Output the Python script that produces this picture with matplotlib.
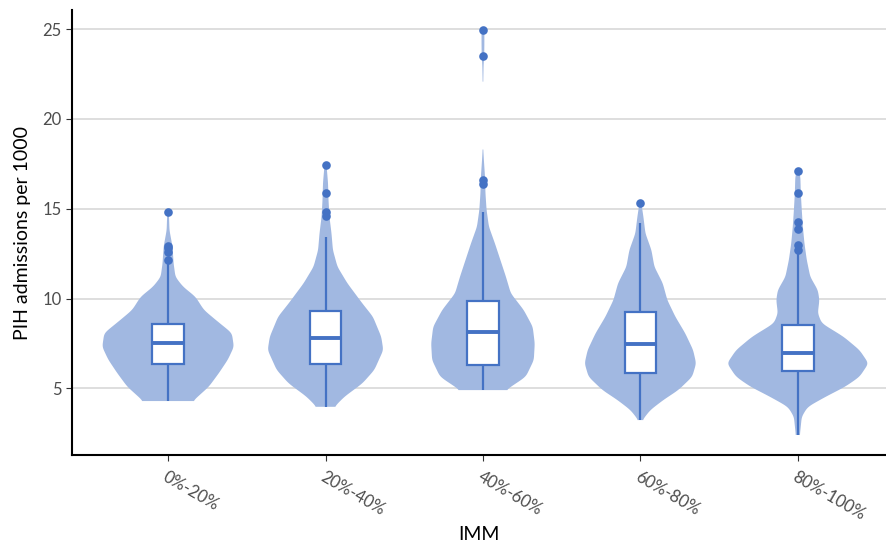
import numpy as np
import matplotlib
matplotlib.use("Agg")
import matplotlib.pyplot as plt

plt.rcParams['font.family'] = ['Lato', 'DejaVu Sans']

# Categories on the x axis
categories = ["0%-20%", "20%-40%", "40%-60%", "60%-80%", "80%-100%"]

# Violin outlines: value levels and half-widths (category units) at each level
v1_y = [4.29, 5.09, 5.85, 6.6, 7.31, 8.08, 8.8, 9.36, 10.1, 10.66, 11.2, 11.97, 12.4, 12.9, 13.8, 14.6, 14.8]
v1_w = [0.158, 0.259, 0.323, 0.380, 0.418, 0.405, 0.304, 0.228, 0.174, 0.095, 0.047, 0.035, 0.032, 0.028, 0.009, 0.006, 0.003]

v2_y = [3.97, 4.53, 5.27, 6.02, 7.13, 7.87, 8.99, 9.73, 10.85, 11.77, 12.7, 13.63, 14.56, 15.49, 16.43, 17.47]
v2_w = [0.057, 0.120, 0.234, 0.310, 0.367, 0.354, 0.301, 0.234, 0.139, 0.076, 0.047, 0.038, 0.025, 0.019, 0.016, 0.006]

v3_y = [4.90, 5.64, 6.57, 7.5, 8.43, 9.36, 10.29, 11.21, 12.14, 13.07, 14.0, 14.93, 15.86, 16.79, 17.7, 18.3]
v3_w = [0.146, 0.272, 0.323, 0.329, 0.316, 0.259, 0.177, 0.146, 0.111, 0.076, 0.038, 0.023, 0.016, 0.013, 0.006, 0.002]
v3_top_y = [22.08, 23.0, 23.5, 24.2, 24.93]
v3_top_w = [0.002, 0.004, 0.008, 0.009, 0.009]

v4_y = [3.23, 3.79, 4.35, 4.9, 5.64, 6.39, 7.13, 8.06, 8.99, 9.92, 10.85, 11.77, 12.7, 13.63, 14.56, 15.32]
v4_w = [0.013, 0.063, 0.146, 0.241, 0.329, 0.354, 0.335, 0.285, 0.222, 0.171, 0.142, 0.089, 0.070, 0.032, 0.019, 0.006]

v5_y = [2.40, 3.42, 3.97, 4.53, 5.09, 5.64, 6.39, 7.13, 7.87, 8.62, 9.18, 9.92, 10.47, 11.21, 12.14, 13.07, 14.0, 14.93, 15.86, 16.79, 17.16]
v5_w = [0.013, 0.025, 0.063, 0.177, 0.301, 0.392, 0.449, 0.392, 0.291, 0.152, 0.127, 0.137, 0.127, 0.079, 0.057, 0.042, 0.032, 0.025, 0.019, 0.016, 0.006]

# Box-plot statistics per category
q1 = [6.35, 6.35, 6.30, 5.85, 5.95]
median = [7.50, 7.80, 8.15, 7.45, 6.95]
q3 = [8.58, 9.30, 9.85, 9.25, 8.55]
whisker_lo = [4.29, 3.97, 4.90, 3.25, 2.40]
whisker_hi = [11.90, 13.40, 14.80, 14.20, 12.55]
outliers = [
    [14.8, 12.95, 12.8, 12.6, 12.15],
    [17.45, 15.9, 14.8, 14.6],
    [24.95, 23.5, 16.6, 16.4],
    [15.3],
    [17.1, 15.85, 14.25, 13.9, 13.0, 12.7],
]

violins = [
    [(v1_y, v1_w)],
    [(v2_y, v2_w)],
    [(v3_y, v3_w), (v3_top_y, v3_top_w)],
    [(v4_y, v4_w)],
    [(v5_y, v5_w)],
]

BLUE = "#4472C4"
FILL = "#A1B8E1"
GRID = "#DEDEDE"
TEXT = "#4D4D4D"


def smooth_outline(ys, ws, step=0.02, bw=0.28):
    ys = np.asarray(ys, float)
    ws = np.asarray(ws, float)
    grid = np.arange(ys[0], ys[-1] + step / 2, step)
    w = np.interp(grid, ys, ws)
    k = int(round(bw / step))
    if k > 0 and len(w) > 2 * k + 1:
        kern = np.exp(-0.5 * (np.arange(-k, k + 1) / (k / 2.0)) ** 2)
        kern /= kern.sum()
        padded = np.concatenate([np.full(k, w[0]), w, np.full(k, w[-1])])
        w = np.convolve(padded, kern, mode="valid")
    return grid, w


fig = plt.figure(figsize=(8.86, 5.55), dpi=100)
ax = fig.add_axes([0.0813, 0.180, 0.9187, 0.802])

ax.set_xlim(-0.61, 4.56)
ax.set_ylim(1.28, 26.07)
ax.set_yticks([5, 10, 15, 20, 25])
ax.yaxis.grid(True, color=GRID, linewidth=1.4, zorder=0)
ax.set_axisbelow(True)

for i, parts in enumerate(violins):
    for ys, ws in parts:
        gy, gw = smooth_outline(ys, ws)
        ax.fill_betweenx(gy, i - gw, i + gw, facecolor=FILL, edgecolor="none", zorder=2)

box_w = 0.2
for i in range(len(categories)):
    ax.plot([i, i], [whisker_lo[i], q1[i]], color=BLUE, lw=1.6, zorder=3, solid_capstyle="butt")
    ax.plot([i, i], [q3[i], whisker_hi[i]], color=BLUE, lw=1.6, zorder=3, solid_capstyle="butt")
    rect = plt.Rectangle((i - box_w / 2, q1[i]), box_w, q3[i] - q1[i],
                         facecolor="white", edgecolor=BLUE, lw=1.6, zorder=4)
    ax.add_patch(rect)
    ax.plot([i - box_w / 2, i + box_w / 2], [median[i], median[i]], color=BLUE, lw=2.8,
            zorder=5, solid_capstyle="butt")
    ax.plot([i] * len(outliers[i]), outliers[i], "o", color=BLUE, ms=6.2, mew=0, zorder=6)

ax.set_xticks(range(len(categories)))
ax.set_xticklabels(categories, rotation=-30, ha="left", va="top", rotation_mode="anchor",
                   fontsize=12, color=TEXT)
ax.tick_params(axis="x", length=4, color="#333333", pad=6)
ax.tick_params(axis="y", length=4, color="#333333", labelsize=12, labelcolor=TEXT)

for s in ["top", "right"]:
    ax.spines[s].set_visible(False)
for s in ["left", "bottom"]:
    ax.spines[s].set_color("black")
    ax.spines[s].set_linewidth(1.5)

ax.set_ylabel("PIH admissions per 1000", fontsize=14, color="black", labelpad=8)
ax.set_xlabel("IMM", fontsize=14, color="black", labelpad=2)

fig.savefig("out.png", dpi=100)
